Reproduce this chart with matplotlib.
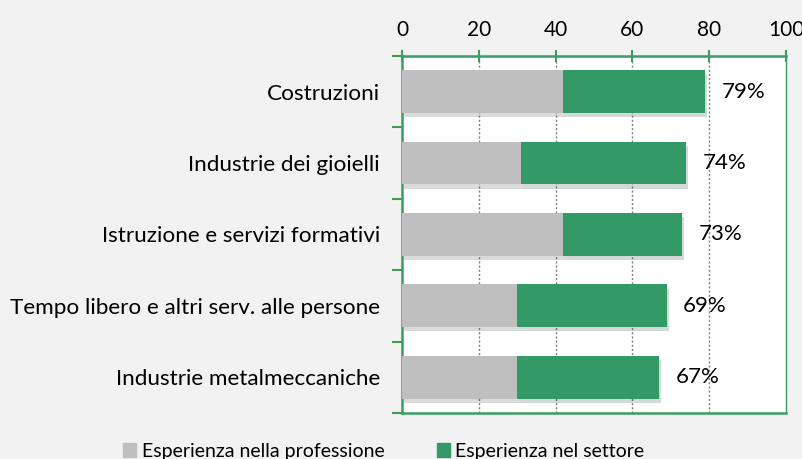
import numpy as np
import matplotlib.pyplot as plt
import matplotlib.patheffects as pe
from matplotlib.patches import Patch

categories = ["Costruzioni", "Industrie dei gioielli", "Istruzione e servizi formativi",
              "Tempo libero e altri serv. alle persone", "Industrie metalmeccaniche"]
professione = [42, 31, 42, 30, 30]
settore = [37, 43, 31, 39, 37]
totale = [79, 74, 73, 69, 67]

GREEN = "#339966"
GRAY = "#BFBFBF"
AXIS = "#3A9E62"

plt.rcParams['font.family'] = ['Lato', 'DejaVu Sans']

fig = plt.figure(figsize=(8.03, 4.59), dpi=100, facecolor="#F2F2F2")
ax = fig.add_axes([0.5006, 0.1002, 0.4782, 0.778])
ax.set_facecolor("white")

y = np.arange(len(categories))
shadow = [pe.SimplePatchShadow(offset=(1.5, -3), alpha=0.18), pe.Normal()]
ax.barh(y, professione, height=0.6, color=GRAY, path_effects=shadow, zorder=3)
ax.barh(y, settore, left=professione, height=0.6, color=GREEN, path_effects=shadow, zorder=3)

for yi, t in zip(y, totale):
    ax.text(t + 4.2, yi, f"{t}%", va="center", ha="left", fontsize=16, zorder=4)

ax.set_xlim(0, 100)
ax.set_ylim(len(categories) - 0.5, -0.5)
ax.xaxis.tick_top()
ax.set_xticks([0, 20, 40, 60, 80, 100])
ax.tick_params(axis="x", which="major", direction="inout", length=9, width=1.5,
               color=AXIS, labelsize=15, pad=7)
ax.set_yticks(y)
ax.set_yticklabels(categories, fontsize=16.2)
ax.set_yticks(np.arange(-0.5, len(categories)), minor=True)
ax.tick_params(axis="y", which="major", length=0, pad=16)
ax.tick_params(axis="y", which="minor", direction="out", length=7, width=1.5, color=AXIS)

for x in [20, 40, 60, 80]:
    ax.axvline(x, color="#7F7F7F", linestyle=(0, (1.5, 1.5)), linewidth=1, zorder=1)

for s in ax.spines.values():
    s.set_color(AXIS)
    s.set_linewidth(1.8)
ax.spines["right"].set_linewidth(1)

handles = [Patch(color=GRAY, label="Esperienza nella professione"),
           Patch(color=GREEN, label="Esperienza nel settore")]
fig.legend(handles=handles, loc="lower center", bbox_to_anchor=(0.478, -0.04), ncol=2,
           frameon=False, fontsize=14, handlelength=0.65, handleheight=0.75,
           handletextpad=0.3, columnspacing=2.7)

fig.savefig("out.png", dpi=100, facecolor=fig.get_facecolor())
